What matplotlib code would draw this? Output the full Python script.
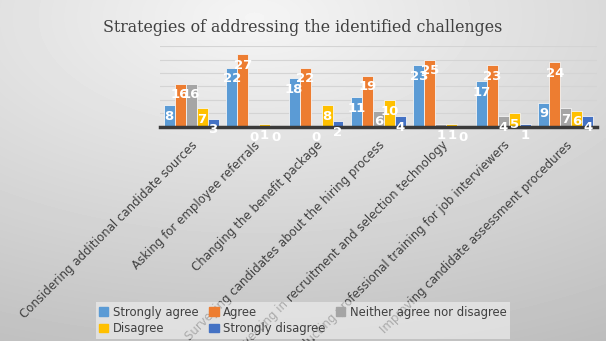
import numpy as np
import matplotlib.pyplot as plt
from matplotlib.patches import Patch

# %% Data
categories = [
    "Considering additional candidate sources",
    "Asking for employee referrals",
    "Changing the benefit package",
    "Surveying candidates about the hiring process",
    "Investing in recruitment and selection technology",
    "Conducting professional training for job interviewers",
    "Improving candidate assessment procedures",
]
series = ["Strongly agree", "Agree", "Neither agree nor disagree", "Disagree", "Strongly disagree"]
strongly_agree = [8, 22, 18, 11, 23, 17, 9]
agree = [16, 27, 22, 19, 25, 23, 24]
neither = [16, 0, 0, 6, 1, 4, 7]
disagree = [7, 1, 8, 10, 1, 5, 6]
strongly_disagree = [3, 0, 2, 4, 0, 1, 4]
colors = ["#5B9BD5", "#ED7D31", "#A5A5A5", "#FFC000", "#4472C4"]

values = [strongly_agree, agree, neither, disagree, strongly_disagree]

# %% Figure with grey gradient background
fig = plt.figure(figsize=(6.06, 3.41), dpi=100)
bg = fig.add_axes([0, 0, 1, 1], zorder=-10)
yy, xx = np.mgrid[0:1:341j, 0:1:606j]
d = np.sqrt(((xx - 0.42) * 1.0) ** 2 + ((yy - 0.05) * 1.1) ** 2)
shade = 0.96 - 0.22 * np.clip(d, 0, 1.2) / 1.2
bg.imshow(shade, cmap="gray", vmin=0, vmax=1, aspect="auto", extent=[0, 1, 1, 0])
bg.axis("off")

ax = fig.add_axes([0.264, 0.628, 0.721, 0.237])
ax.set_facecolor("none")
x = np.arange(len(categories))
w = 0.176
for i, (name, vals, c) in enumerate(zip(series, values, colors)):
    pos = x + (i - 2) * w
    ax.bar(pos, vals, w, color=c, edgecolor="#f4f4f4", linewidth=0.6, label=name, zorder=3)
    for px, v in zip(pos, vals):
        ax.annotate(str(v), (px, v), xytext=(0, -8), textcoords="offset points",
                    ha="center", va="center", color="white", fontsize=9.5,
                    fontweight="bold", zorder=5, annotation_clip=False)

ax.set_ylim(0, 30)
ax.set_xlim(-0.5, len(categories) - 0.5)
ax.set_yticks(range(0, 31, 5))
ax.yaxis.grid(True, color="#d4d4d4", linewidth=0.8, zorder=0)
ax.tick_params(left=False, labelleft=False, bottom=False)
for s in ["top", "right", "left"]:
    ax.spines[s].set_visible(False)
ax.spines["bottom"].set_color("#3a3a3a")
ax.spines["bottom"].set_linewidth(2.5)
ax.spines["bottom"].set_zorder(4)

ax.set_xticks(x)
ax.set_xticklabels(categories, rotation=45, ha="right", rotation_mode="anchor",
                   fontsize=8.5, color="#404040")
ax.tick_params(axis="x", pad=5)

fig.text(0.5, 0.92, "Strategies of addressing the identified challenges",
         ha="center", va="center", fontsize=11.4, family="DejaVu Serif", color="#404040")

# legend: row-major order via column-major fill
order = [0, 3, 1, 4, 2]
handles = [Patch(color=colors[i], label=series[i]) for i in order]
leg = fig.legend(handles=handles, ncol=3, loc="lower center", bbox_to_anchor=(0.5, -0.01),
                 fontsize=8.4, frameon=True, handlelength=0.8, handleheight=0.8,
                 handletextpad=0.4, columnspacing=0.9, labelspacing=0.3, borderpad=0.3)
leg.get_frame().set_facecolor("#f2f2f2")
leg.get_frame().set_alpha(0.6)
leg.get_frame().set_edgecolor("none")
leg.get_frame().set_boxstyle("square", pad=0)
for t in leg.get_texts():
    t.set_color("#404040")

fig.savefig("out.png", dpi=100)
